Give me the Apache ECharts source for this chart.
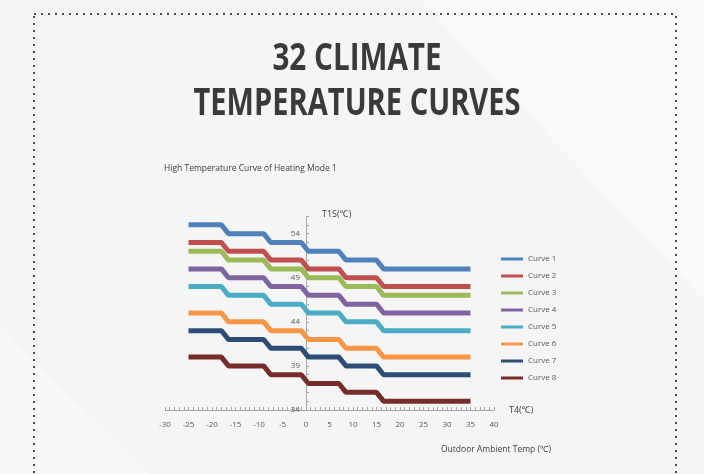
<!DOCTYPE html>
<html>
<head>
<meta charset="utf-8">
<script src="https://cdn.jsdelivr.net/npm/echarts@6/dist/echarts.min.js"></script>
<style>
html,body{margin:0;padding:0;background:#f5f5f5;}
#chart{width:704px;height:474px;}
</style>
</head>
<body>
<div id="chart"></div>
<script>
// ---- data ----
const stepX = [-25, -18, -16.5, -9, -7.5, -1, 0.5, 7, 8.5, 15, 16.5, 35];
const curveNames = ['Curve 1', 'Curve 2', 'Curve 3', 'Curve 4', 'Curve 5', 'Curve 6', 'Curve 7', 'Curve 8'];
const curve1 = [55, 54, 53, 52, 51, 50];
const curve2 = [53, 52, 51, 50, 49, 48];
const curve3 = [52, 51, 50, 49, 48, 47];
const curve4 = [50, 49, 48, 47, 46, 45];
const curve5 = [48, 47, 46, 45, 44, 43];
const curve6 = [45, 44, 43, 42, 41, 40];
const curve7 = [43, 42, 41, 40, 39, 38];
const curve8 = [40, 39, 38, 37, 36, 35];
const yTickLabels = [34, 39, 44, 49, 54];
const curveColors = ['#4f81bd', '#c0504d', '#9bbb59', '#8064a2', '#4bacc6', '#f79646', '#2c4d75', '#772c2a'];
const allCurves = [curve1, curve2, curve3, curve4, curve5, curve6, curve7, curve8];

function toPoints(levels) {
  const pts = [];
  levels.forEach(function (v, i) {
    pts.push([stepX[2 * i], v]);
    pts.push([stepX[2 * i + 1], v]);
  });
  return pts;
}

const chart = echarts.init(document.getElementById('chart'), null, {renderer: 'canvas'});
const labelColor = '#595959';
const axisColor = '#a6a6a6';
const smallFont = '"Open Sans", "Noto Sans", sans-serif';

const X_MIN = -30, X_MAX = 40;
const GRID_LEFT = 165, GRID_WIDTH = 329;
// move the y axis onto x = 0 of the x scale
const yAxisOffset = -GRID_WIDTH * (0 - X_MIN) / (X_MAX - X_MIN);

const option = {
  backgroundColor: '#f5f5f5',
  animation: false,
  graphic: [
    {type: 'polygon', z: -10, shape: {points: [[420, 0], [704, 0], [704, 300]]}, style: {fill: 'rgba(255,255,255,0.4)'}, silent: true},
    {type: 'polygon', z: -10, shape: {points: [[0, 330], [0, 474], [150, 474]]}, style: {fill: 'rgba(255,255,255,0.35)'}, silent: true},
    {type: 'rect', z: -5, shape: {x: 34, y: 14, width: 642, height: 480}, style: {fill: 'none', stroke: '#4a4a4a', lineWidth: 2, lineDash: [2, 5]}, silent: true},
    {type: 'text', x: 357, y: 59, scaleX: 0.78, scaleY: 1, style: {text: '32 CLIMATE', font: 'bold 38px "Open Sans"', fill: '#3a3a3a', textAlign: 'center', textVerticalAlign: 'middle', align: 'center', verticalAlign: 'middle'}},
    {type: 'text', x: 357, y: 104, scaleX: 0.765, scaleY: 1, style: {text: 'TEMPERATURE CURVES', font: 'bold 38px "Open Sans"', fill: '#3a3a3a', textAlign: 'center', textVerticalAlign: 'middle', align: 'center', verticalAlign: 'middle'}},
    {type: 'text', x: 164, y: 169, style: {text: 'High Temperature Curve of Heating Mode 1', font: '8.5px ' + smallFont, fill: '#404040', textAlign: 'left', textVerticalAlign: 'middle', align: 'left', verticalAlign: 'middle'}},
    {type: 'text', x: 441, y: 450, style: {text: 'Outdoor Ambient Temp (\u2103)', font: '8.5px ' + smallFont, fill: '#404040', textAlign: 'left', textVerticalAlign: 'middle', align: 'left', verticalAlign: 'middle'}}
  ],
  legend: {
    orient: 'vertical',
    left: 496,
    top: 249,
    icon: 'rect',
    itemWidth: 22,
    itemHeight: 3,
    itemGap: 7,
    data: curveNames,
    textStyle: {fontSize: 8, color: labelColor, fontFamily: smallFont, lineHeight: 10}
  },
  grid: {left: GRID_LEFT, top: 216, width: GRID_WIDTH, height: 194, containLabel: false},
  xAxis: {
    type: 'value',
    min: X_MIN,
    max: X_MAX,
    interval: 5,
    name: 'T4(\u2103)',
    nameLocation: 'end',
    nameGap: 15,
    nameTextStyle: {fontSize: 9, color: '#404040', fontFamily: smallFont, verticalAlign: 'middle'},
    axisLine: {onZero: false, lineStyle: {color: axisColor, width: 1}},
    axisTick: {show: true, inside: true, length: 3, lineStyle: {color: axisColor}},
    minorTick: {show: true, splitNumber: 5, length: 3, lineStyle: {color: axisColor}},
    axisLabel: {fontSize: 8, color: labelColor, fontFamily: smallFont, margin: 11},
    splitLine: {show: false}
  },
  yAxis: {
    type: 'value',
    min: 34,
    max: 56,
    interval: 1,
    offset: yAxisOffset,
    name: 'T1S(\u2103)',
    nameLocation: 'end',
    nameGap: 2,
    nameTextStyle: {fontSize: 9, color: '#404040', fontFamily: smallFont, align: 'left', verticalAlign: 'middle', padding: [0, 0, 0, 16]},
    axisLine: {show: true, onZero: false, lineStyle: {color: axisColor, width: 1}},
    axisTick: {show: true, inside: true, length: 3, lineStyle: {color: axisColor}},
    axisLabel: {
      fontSize: 8, color: labelColor, fontFamily: smallFont, margin: 6,
      formatter: function (v) { return yTickLabels.indexOf(v) >= 0 ? String(v) : ''; }
    },
    splitLine: {show: false}
  },
  series: allCurves.map(function (levels, i) {
    return {
      name: curveNames[i],
      type: 'line',
      data: toPoints(levels),
      symbol: 'none',
      color: curveColors[i],
      itemStyle: {color: curveColors[i]},
      lineStyle: {color: curveColors[i], width: 5},
      z: 3
    };
  })
};
chart.setOption(option);
</script>
</body>
</html>
